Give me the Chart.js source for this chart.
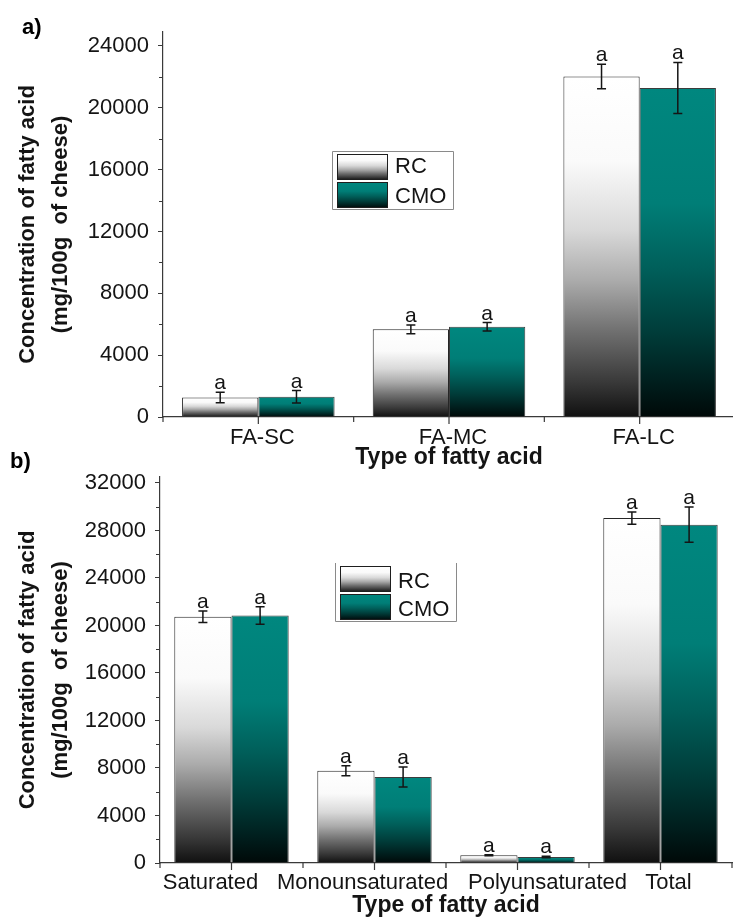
<!DOCTYPE html>
<html>
<head>
<meta charset="utf-8">
<script src="https://cdn.jsdelivr.net/npm/chart.js@4.4.1/dist/chart.umd.min.js"></script>
<style>
  html, body { margin: 0; padding: 0; background: #ffffff; width: 733px; height: 918px; overflow: hidden; }
  .panel { position: absolute; left: 0; }
  #panelA { top: 0; }
  #panelB { top: 440px; }
</style>
</head>
<body>
<div class="panel" id="panelA"><canvas id="chartA" width="740" height="475"></canvas></div>
<div class="panel" id="panelB"><canvas id="chartB" width="740" height="478"></canvas></div>
<script>
// ---- data: fatty acids by chain length (mg/100 g of cheese) ----
const chainCategories = ['FA-SC', 'FA-MC', 'FA-LC'];
const chainRC = [1260, 5670, 22020];
const chainRCErr = [340, 280, 790];
const chainCMO = [1310, 5840, 21280];
const chainCMOErr = [400, 270, 1650];
const chainRCGroups = ['a', 'a', 'a'];
const chainCMOGroups = ['a', 'a', 'a'];
const chainYTicks = [0, 4000, 8000, 12000, 16000, 20000, 24000];

// ---- data: fatty acids by saturation (mg/100 g of cheese) ----
const satCategories = ['Saturated', 'Monounsaturated', 'Polyunsaturated', 'Total'];
const satRC = [20730, 7770, 650, 29040];
const satRCErr = [480, 420, 40, 520];
const satCMO = [20840, 7240, 505, 28490];
const satCMOErr = [740, 840, 60, 1480];
const satRCGroups = ['a', 'a', 'a', 'a'];
const satCMOGroups = ['a', 'a', 'a', 'a'];
const satYTicks = [0, 4000, 8000, 12000, 16000, 20000, 24000, 28000, 32000];

const seriesNames = ['RC', 'CMO'];
const axisTitleY = ['Concentration of fatty acid', '(mg/100g  of cheese)'];
const axisTitleX = 'Type of fatty acid';
const panelLetters = ['a)', 'b)'];

// ---- styling ----
const FONT = "'Liberation Sans', Arial, Helvetica, sans-serif";
const TEXT = '#141414';
const AXIS = '#3a3a3a';
const RC_STOPS = [[0, '#ffffff'], [0.25, '#fafafa'], [0.45, '#d9d9d9'], [0.6, '#ababab'], [0.75, '#6f6f6f'], [0.9, '#383838'], [1, '#101010']];
const CMO_STOPS = [[0, '#00877f'], [0.35, '#007e77'], [0.55, '#005f5a'], [0.75, '#003b38'], [0.9, '#001d1c'], [1, '#000908']];

function makeGradient(ctx, y0, y1, stops) {
  const g = ctx.createLinearGradient(0, y0, 0, y1);
  stops.forEach(([p, c]) => g.addColorStop(p, c));
  return g;
}

// each bar gets its own top-to-bottom gradient, spanning value -> zero
function barFill(stops, fallback) {
  return (c) => {
    const ch = c.chart;
    const ys = ch.scales && ch.scales.y;
    if (!ys || c.raw == null) return fallback;
    const top = ys.getPixelForValue(c.raw);
    const base = ys.getPixelForValue(0);
    if (!isFinite(top) || !isFinite(base) || base - top < 0.5) return fallback;
    return makeGradient(ch.ctx, top, base, stops);
  };
}

// error bars plus significance letters above each bar
const errorBarPlugin = {
  id: 'errorBars',
  afterDatasetsDraw(chart) {
    const ctx = chart.ctx;
    const ys = chart.scales.y;
    chart.data.datasets.forEach((ds, di) => {
      const meta = chart.getDatasetMeta(di);
      meta.data.forEach((bar, i) => {
        const v = ds.data[i];
        const e = ds.errors[i];
        const yHi = ys.getPixelForValue(v + e);
        const yLo = ys.getPixelForValue(v - e);
        const x = bar.x;
        ctx.save();
        ctx.strokeStyle = '#151515';
        ctx.lineWidth = 1.5;
        ctx.beginPath();
        ctx.moveTo(x, yHi); ctx.lineTo(x, yLo);
        ctx.moveTo(x - 4.5, yHi); ctx.lineTo(x + 4.5, yHi);
        ctx.moveTo(x - 4.5, yLo); ctx.lineTo(x + 4.5, yLo);
        ctx.stroke();
        ctx.fillStyle = TEXT;
        ctx.font = `21px ${FONT}`;
        ctx.textAlign = 'center';
        ctx.textBaseline = 'alphabetic';
        ctx.fillText(ds.groups[i], x, yHi - 3);
        ctx.restore();
      });
    });
  }
};

// minor tick marks halfway between the labelled value ticks
const minorTickPlugin = {
  id: 'minorTicks',
  afterDraw(chart) {
    const ys = chart.scales.y;
    const ctx = chart.ctx;
    const t = ys.ticks;
    const xA = chart.chartArea.left;
    ctx.save();
    ctx.strokeStyle = AXIS;
    ctx.lineWidth = 1;
    ctx.beginPath();
    for (let i = 0; i + 1 < t.length; i++) {
      const y = Math.round(ys.getPixelForValue((t[i].value + t[i + 1].value) / 2)) + 0.5;
      ctx.moveTo(xA, y); ctx.lineTo(xA - 4, y);
    }
    ctx.stroke();
    ctx.restore();
  }
};

// category axis: tick marks at centres and group boundaries, labels under them
const categoryAxisPlugin = {
  id: 'categoryAxis',
  afterDraw(chart, args, opts) {
    const xs = chart.scales.x;
    const ctx = chart.ctx;
    const labels = chart.data.labels;
    const n = labels.length;
    const step = xs.getPixelForValue(1) - xs.getPixelForValue(0);
    const yA = chart.chartArea.bottom;
    ctx.save();
    ctx.strokeStyle = AXIS;
    ctx.lineWidth = 1.2;
    ctx.beginPath();
    for (let i = 0; i < n; i++) {
      const c = xs.getPixelForValue(i);
      ctx.moveTo(c, yA); ctx.lineTo(c, yA + 7);
      ctx.moveTo(c - step / 2, yA); ctx.lineTo(c - step / 2, yA + 5);
      if (i === n - 1) { ctx.moveTo(c + step / 2, yA); ctx.lineTo(c + step / 2, yA + 5); }
    }
    ctx.stroke();
    ctx.fillStyle = TEXT;
    ctx.font = `22px ${FONT}`;
    ctx.textAlign = 'center';
    ctx.textBaseline = 'alphabetic';
    labels.forEach((t, i) => {
      const dx = (opts.shift && opts.shift[i]) || 0;
      ctx.fillText(t, xs.getPixelForValue(i) + dx, yA + opts.gap);
    });
    ctx.restore();
  }
};

// boxed legend placed inside the plot area
const boxLegendPlugin = {
  id: 'boxLegend',
  afterDraw(chart, args, opts) {
    const ctx = chart.ctx;
    const a = chart.chartArea;
    const bx = Math.round(a.left + opts.fx * (a.right - a.left));
    const by = Math.round(a.top + opts.fy * (a.bottom - a.top));
    const w = 121, h = 58;
    ctx.save();
    ctx.strokeStyle = '#8a8a8a';
    ctx.lineWidth = 1;
    ctx.beginPath();
    if (opts.openTop) {
      ctx.moveTo(bx + 0.5, by); ctx.lineTo(bx + 0.5, by + h + 0.5);
      ctx.lineTo(bx + w + 0.5, by + h + 0.5); ctx.lineTo(bx + w + 0.5, by);
    } else {
      ctx.rect(bx + 0.5, by + 0.5, w, h);
    }
    ctx.stroke();
    const stops = [RC_STOPS, CMO_STOPS];
    const rows = [[3, 26], [31, 26]];
    chart.data.datasets.forEach((ds, i) => {
      const sy = by + rows[i][0];
      const sh = rows[i][1];
      ctx.fillStyle = makeGradient(ctx, sy, sy + sh, stops[i]);
      ctx.fillRect(bx + 5, sy, 51, sh);
      ctx.strokeStyle = '#1e1e1e';
      ctx.strokeRect(bx + 5.5, sy + 0.5, 50, sh - 1);
      ctx.fillStyle = TEXT;
      ctx.font = `22px ${FONT}`;
      ctx.textAlign = 'left';
      ctx.textBaseline = 'alphabetic';
      ctx.fillText(ds.label, bx + 63, by + opts.baselines[i]);
    });
    ctx.restore();
  }
};

// panel letter in the top-left corner
const panelLetterPlugin = {
  id: 'panelLetter',
  afterDraw(chart, args, opts) {
    const ctx = chart.ctx;
    ctx.save();
    ctx.fillStyle = '#000';
    ctx.font = `bold 22px ${FONT}`;
    ctx.textAlign = 'left';
    ctx.textBaseline = 'alphabetic';
    ctx.fillText(opts.text, opts.x, opts.y);
    ctx.restore();
  }
};

function barSets(rc, rcErr, rcGroups, cmo, cmoErr, cmoGroups) {
  return [
    { label: seriesNames[0], data: rc, errors: rcErr, groups: rcGroups,
      backgroundColor: barFill(RC_STOPS, '#cfcfcf'), borderColor: '#262626', borderWidth: 1,
      categoryPercentage: 0.8, barPercentage: 1.0 },
    { label: seriesNames[1], data: cmo, errors: cmoErr, groups: cmoGroups,
      backgroundColor: barFill(CMO_STOPS, '#00706a'), borderColor: '#3c3c3c', borderWidth: 1,
      categoryPercentage: 0.8, barPercentage: 1.0 }
  ];
}

function yAxis(max, width, tickValues) {
  return {
    min: 0, max: max,
    afterBuildTicks: s => { s.ticks = tickValues.map(v => ({ value: v })); },
    ticks: { autoSkip: false, padding: 9, color: TEXT, font: { family: FONT, size: 22 },
      callback: v => String(v) },
    grid: { display: true, drawOnChartArea: false, drawTicks: true, tickLength: 5, color: AXIS, lineWidth: 1 },
    border: { display: true, color: AXIS, width: 1.2 },
    title: { display: true, text: axisTitleY, color: TEXT,
      font: { family: FONT, size: 22, weight: 'bold', lineHeight: 1.47 }, padding: { top: 12, bottom: 0 } },
    afterFit: s => { s.width = width; }
  };
}

function xAxis(height, titlePad) {
  return {
    type: 'category', offset: true,
    grid: { display: false, drawTicks: false },
    border: { display: true, color: AXIS, width: 1.2 },
    ticks: { display: false },
    title: { display: true, text: axisTitleX, color: TEXT,
      font: { family: FONT, size: 23, weight: 'bold', lineHeight: 1 }, padding: { top: 0, bottom: titlePad } },
    afterFit: s => { s.height = height; }
  };
}

function makeChart(id, cfg) {
  return new Chart(document.getElementById(id), {
    type: 'bar',
    data: { labels: cfg.labels, datasets: cfg.datasets },
    options: {
      responsive: false,
      animation: false,
      events: [],
      layout: { padding: { top: cfg.padTop, right: cfg.padRight, left: 0, bottom: 0 } },
      scales: { x: xAxis(cfg.xHeight, cfg.titlePad), y: yAxis(cfg.yMax, cfg.yWidth, cfg.yTicks) },
      plugins: {
        legend: { display: false },
        tooltip: { enabled: false },
        categoryAxis: { shift: cfg.labelShift, gap: cfg.labelGap },
        boxLegend: cfg.legend,
        panelLetter: cfg.letter
      }
    },
    plugins: [errorBarPlugin, minorTickPlugin, categoryAxisPlugin, boxLegendPlugin, panelLetterPlugin]
  });
}

makeChart('chartA', {
  labels: chainCategories,
  datasets: barSets(chainRC, chainRCErr, chainRCGroups, chainCMO, chainCMOErr, chainCMOGroups),
  yMax: 24900, yWidth: 163, yTicks: chainYTicks, xHeight: 58, padTop: 32, padRight: 5, titlePad: 5.5,
  labelShift: [4, 4, 4], labelGap: 27,
  legend: { fx: 0.2955, fy: 0.309, openTop: false, baselines: [22, 52] },
  letter: { text: panelLetters[0], x: 22, y: 34 }
});

makeChart('chartB', {
  labels: satCategories,
  datasets: barSets(satRC, satRCErr, satRCGroups, satCMO, satCMOErr, satCMOGroups),
  yMax: 32500, yWidth: 160, yTicks: satYTicks, xHeight: 55, padTop: 37, padRight: 8, titlePad: 0.5,
  labelShift: [-21, -12, 30, 8], labelGap: 26,
  legend: { fx: 0.306, fy: 0.2236, openTop: true, baselines: [25, 53] },
  letter: { text: panelLetters[1], x: 10, y: 28 }
});
</script>
</body>
</html>
